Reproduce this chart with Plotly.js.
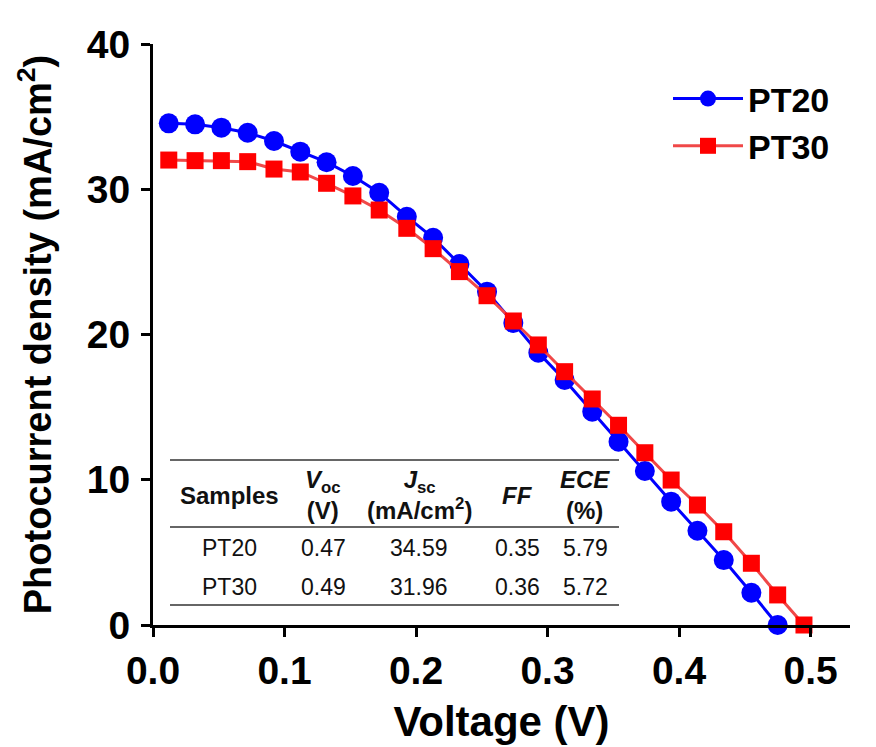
<!DOCTYPE html>
<html><head><meta charset="utf-8">
<script src="https://cdn.plot.ly/plotly-3.0.1.min.js"></script>
<style>body{margin:0;background:#fff}#c{width:876px;height:747px}</style>
</head><body><div id="c"></div>
<script>
const pt20V = [0.012,0.032,0.052,0.072,0.092,0.112,0.132,0.152,0.172,0.193,0.213,0.233,0.254,0.274,0.293,0.313,0.334,0.354,0.374,0.394,0.414,0.434,0.455,0.475];
const pt20J = [34.54,34.47,34.24,33.89,33.32,32.59,31.86,30.91,29.76,28.11,26.66,24.85,22.95,20.8,18.75,16.87,14.69,12.62,10.6,8.49,6.49,4.47,2.22,0];
const pt30V = [0.012,0.032,0.052,0.072,0.092,0.112,0.132,0.152,0.172,0.193,0.213,0.233,0.254,0.274,0.293,0.313,0.334,0.354,0.374,0.394,0.414,0.434,0.455,0.475,0.495];
const pt30J = [32.01,31.97,31.97,31.9,31.39,31.19,30.41,29.54,28.57,27.31,25.91,24.33,22.67,20.93,19.28,17.44,15.56,13.75,11.86,9.98,8.26,6.42,4.25,2.07,0];
const tableHeaders = ["Samples","<i>V</i><sub>oc</sub><br>(V)","<i>J</i><sub>sc</sub><br>(mA/cm<sup>2</sup>)","<i>FF</i>","<i>ECE</i><br>(%)"];
const tableRows = [["PT20","0.47","34.59","0.35","5.79"],["PT30","0.49","31.96","0.36","5.72"]];

const L=153, R=850, T=44, B=625;
const px = x => (x-L)/(R-L);
const py = y => (B-y)/(B-T);
const FONT = "Arial, 'Liberation Sans', sans-serif";

const traces = [
  {x:pt20V, y:pt20J, name:"PT20", mode:"lines+markers", cliponaxis:false,
   line:{color:"#0000ff", width:3}, marker:{symbol:"circle", size:20, color:"#0000ff"}},
  {x:pt30V, y:pt30J, name:"PT30", mode:"lines+markers", cliponaxis:false,
   line:{color:"#f04848", width:3}, marker:{symbol:"square", size:17, color:"#ff0000"}}
];

const colX = [229, 323, 419, 517, 585];
const annotations = [];
tableHeaders.forEach((h,i)=>{
  annotations.push({xref:"paper", yref:"paper", x:px(colX[i]), y:py(495), text:h, showarrow:false,
    xanchor:"center", yanchor:"middle", font:{family:FONT, size:24, color:"#111", weight:"bold"}});
});
tableRows.forEach((row,r)=>{
  row.forEach((v,i)=>{
    annotations.push({xref:"paper", yref:"paper", x:px(colX[i]), y:py(r===0?548:587), text:v, showarrow:false,
      xanchor:"center", yanchor:"middle", font:{family:FONT, size:23, color:"#111"}});
  });
});
const shapes = [460, 527, 605].map(yy=>({type:"line", xref:"paper", yref:"paper",
  x0:px(170), x1:px(619), y0:py(yy), y1:py(yy), line:{color:"#333", width:1.5}}));

const layout = {
  width:876, height:747,
  margin:{l:L, r:876-R, t:T, b:747-B},
  paper_bgcolor:"#fff", plot_bgcolor:"#fff",
  showlegend:true,
  legend:{x:px(668), y:py(70), xanchor:"left", yanchor:"top", itemwidth:70,
    font:{family:FONT, size:34, color:"#000", weight:"bold"}, tracegroupgap:0, bgcolor:"rgba(0,0,0,0)"},
  xaxis:{range:[0,0.53], tickvals:[0,0.1,0.2,0.3,0.4,0.5], ticktext:["0.0","0.1","0.2","0.3","0.4","0.5"],
    showgrid:false, zeroline:false, showline:true, linecolor:"#000", linewidth:3,
    ticks:"outside", ticklen:9, tickwidth:3, tickcolor:"#000", ticklabelstandoff:0,
    tickfont:{family:FONT, size:39, color:"#000", weight:"bold"},
    title:{text:"Voltage (V)", font:{family:FONT, size:42, color:"#000", weight:"bold"}, standoff:16}},
  yaxis:{range:[0,40], tickvals:[0,10,20,30,40],
    showgrid:false, zeroline:false, showline:true, linecolor:"#000", linewidth:3,
    ticks:"outside", ticklen:9, tickwidth:3, tickcolor:"#000", ticklabelstandoff:3,
    tickfont:{family:FONT, size:39, color:"#000", weight:"bold"},
    title:{text:"Photocurrent density (mA/cm<sup>2</sup>)", font:{family:FONT, size:38, color:"#000", weight:"bold"}, standoff:24}},
  annotations, shapes
};
Plotly.newPlot("c", traces, layout, {staticPlot:true, displayModeBar:false});
</script></body></html>
